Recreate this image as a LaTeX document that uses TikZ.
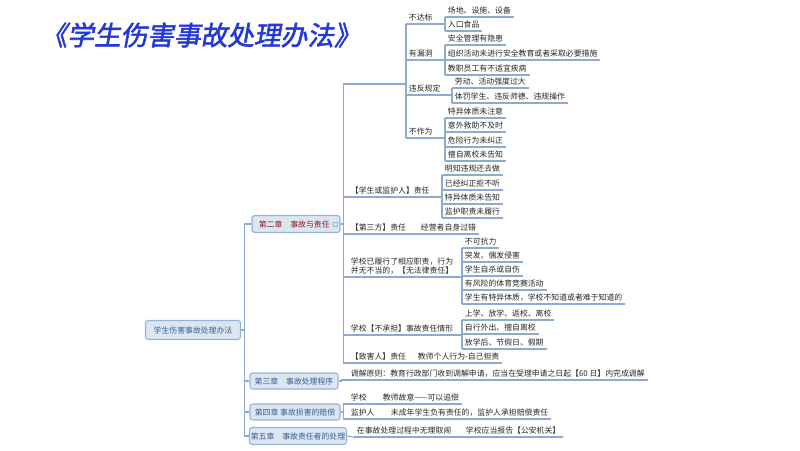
\documentclass[tikz,border=0pt]{standalone}
\usepackage{fontspec}
\setmainfont{Noto Sans CJK SC}
\newfontfamily\titlefont[FakeSlant=0.18,FakeBold=2]{Noto Sans CJK SC}
\definecolor{ln}{HTML}{8EAAD0}
\definecolor{bxf}{HTML}{DCE6F2}
\definecolor{bxd}{HTML}{95B3D7}
\definecolor{chr}{HTML}{8B1A1A}
\definecolor{chb}{HTML}{3A5F8F}
\definecolor{ttl}{HTML}{2438D8}
\tikzset{
  conn/.style={draw=ln,line width=0.8pt},
  leaf/.style={anchor=south west,inner xsep=2pt,inner ysep=1.6pt,font=\fontsize{5.9}{7.2}\selectfont,text=black!85},
  chap/.style={draw=bxd,fill=bxf,rounded corners=2pt,line width=0.8pt,font=\fontsize{5.9}{7}\selectfont,inner sep=1pt}
}
\newcommand{\lf}[4]{\node[leaf] (#1) at (#2,#3) {#4}; \draw[conn] (#1.south west) -- (#1.south east);}
\begin{document}
\begin{tikzpicture}[x=0.75pt,y=-0.75pt]
\useasboundingbox (0,0) rectangle (800,450);
\node[anchor=west,text=ttl,font=\titlefont\fontsize{20}{22}\selectfont] (title) at (36,35) {《学生伤害事故处理办法》};
% boxes
\node[chap,text=chb,minimum width=95*0.75pt,minimum height=19*0.75pt] (root) at (193,330) {学生伤害事故处理办法};
\node[chap,text=chr,minimum width=88*0.75pt,minimum height=17*0.75pt] (ch2) at (296,224) {第二章\quad 事故与责任\ \ \ };
\draw[bxd,line width=0.5pt] (333,222) rectangle (337,226);
\node[chap,text=chb,minimum width=88*0.75pt,minimum height=16*0.75pt] (ch3) at (294,381) {第三章\quad 事故处理程序};
\node[chap,text=chb,minimum width=90*0.75pt,minimum height=16*0.75pt] (ch4) at (295,412) {第四章 事故损害的赔偿};
\node[chap,text=chb,minimum width=96*0.75pt,minimum height=17*0.75pt] (ch5) at (298,436) {第五章\quad 事故责任者的处理};
\foreach \c in {ch2,ch3,ch4,ch5} \draw[conn] (root.east) -- ++(3,0) |- (\c.west);
% top group
\coordinate (sch) at (406,84);
\draw[conn] (ch2.east) -- ++(3,0) |- (sch);
\lf{a1}{406}{24}{不达标}
\lf{a2}{406}{60}{有漏洞}
\lf{a3}{406}{95}{违反规定}
\lf{a4}{406}{138}{不作为}
\foreach \n in {a1,a2,a3,a4} \draw[conn] (sch) |- (\n.south west);
\lf{a11}{445}{17}{场地、设施、设备}
\lf{a12}{445}{31}{入口食品}
\foreach \n in {a11,a12} \draw[conn] (a1.south east) -| (\n.south west);
\lf{a21}{445}{45}{安全管理有隐患}
\lf{a22}{445}{60}{组织活动未进行安全教育或者采取必要措施}
\lf{a23}{445}{75}{教职员工有不适宜疾病}
\foreach \n in {a21,a22,a23} \draw[conn] (a2.south east) -| (\n.south west);
\lf{a31}{452}{88}{劳动、活动强度过大}
\lf{a32}{452}{103}{体罚学生、违反师德、违规操作}
\foreach \n in {a31,a32} \draw[conn] (a3.south east) -| (\n.south west);
\lf{a41}{445}{118}{特异体质未注意}
\lf{a42}{445}{132}{意外救助不及时}
\lf{a43}{445}{147}{危险行为未纠正}
\lf{a44}{445}{161}{擅自离校未告知}
\foreach \n in {a41,a42,a43,a44} \draw[conn] (a4.south east) -| (\n.south west);
% student/guardian
\lf{b}{348}{197}{【学生或监护人】责任}
\lf{b1}{442}{175}{明知违规还去做}
\lf{b2}{442}{190}{已经纠正拒不听}
\lf{b3}{442}{204}{特异体质未告知}
\lf{b4}{442}{218}{监护职责未履行}
\foreach \n in {b1,b2,b3,b4} \draw[conn] (b.south east) -| (\n.south west);
\lf{c}{348}{234}{【第三方】责任}
\lf{c1}{418}{234}{经营者自身过错}
\draw[conn] (c.south east) -- (c1.south west);
\node[leaf,align=left] (d) at (348,277) {学校已履行了相应职责，行为\\并无不当的，【无法律责任】};
\draw[conn] (d.south west) -- (d.south east);
\lf{d1}{462}{248}{不可抗力}
\lf{d2}{462}{262}{突发、偶发侵害}
\lf{d3}{462}{276}{学生自杀或自伤}
\lf{d4}{462}{290}{有风险的体育竞赛活动}
\lf{d5}{462}{304}{学生有特异体质，学校不知道或者难于知道的}
\foreach \n in {d1,d2,d3,d4,d5} \draw[conn] (d.south east) -| (\n.south west);
\lf{e}{348}{335}{学校【不承担】事故责任情形}
\lf{e1}{462}{320}{上学、放学、返校、离校}
\lf{e2}{462}{334}{自行外出、擅自离校}
\lf{e3}{462}{349}{放学后、节假日、假期}
\foreach \n in {e1,e2,e3} \draw[conn] (e.south east) -| (\n.south west);
\lf{f}{348}{363}{【致害人】责任}
\lf{f1}{415}{363}{教师个人行为-自己担责}
\draw[conn] (f.south east) -- (f1.south west);
\foreach \n in {b,c,d,e,f} \draw[conn] (ch2.east) -- ++(3,0) |- (\n.south west);
% ch3
\lf{g}{348}{380}{调解原则：教育行政部门收到调解申请，应当在受理申请之日起【60 日】内完成调解}
\draw[conn] (ch3.east) -- ++(3,0) |- (g.south west);
% ch4
\lf{h1}{348}{404}{学校}
\lf{h11}{380}{404}{教师故意——可以追偿}
\draw[conn] (h1.south east) -- (h11.south west);
\lf{h2}{348}{419}{监护人}
\lf{h21}{388}{419}{未成年学生负有责任的，监护人承担赔偿责任}
\draw[conn] (h2.south east) -- (h21.south west);
\foreach \n in {h1,h2} \draw[conn] (ch4.east) -- ++(3,0) |- (\n.south west);
% ch5
\lf{k1}{354}{437}{在事故处理过程中无理取闹}
\lf{k11}{463}{437}{学校应当报告【公安机关】}
\draw[conn] (k1.south east) -- (k11.south west);
\draw[conn] (ch5.east) -- (k1.south west);
\end{tikzpicture}
\end{document}
